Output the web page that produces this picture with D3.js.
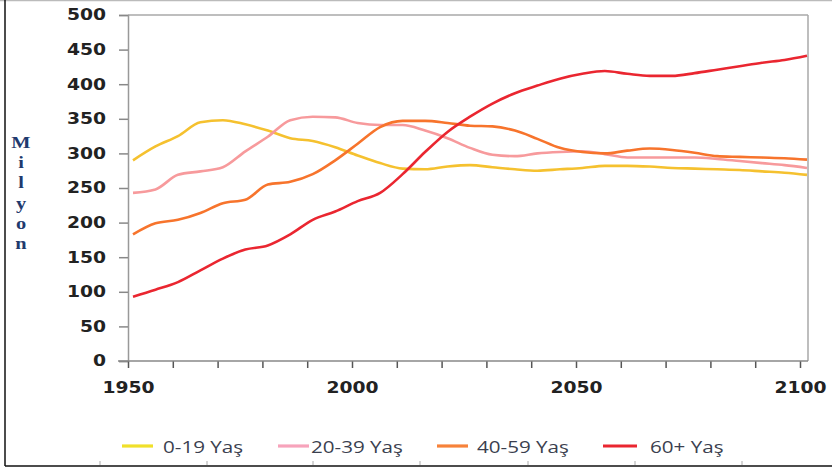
<!DOCTYPE html>
<html><head><meta charset="utf-8">
<script src="https://cdn.jsdelivr.net/npm/d3@7"></script>
<style>body{margin:0;background:#fff}svg{display:block}</style>
</head><body>
<script>
const years = d3.range(1950, 2101, 5);
const age0_19  = [290,310,325,345,348,342,333,322,318,309,297,286,278,277,281,283,280,277,275,277,279,282,282,281,279,278,277,276,274,272,269];
const age20_39 = [243,248,269,274,280,303,324,348,353,352,344,341,341,333,322,308,298,296,300,302,303,299,294,294,294,294,292,289,286,283,279];
const age40_59 = [183,199,204,214,228,233,255,259,270,290,314,338,347,347,344,340,339,333,321,308,302,300,304,307,305,301,296,295,294,293,291];
const age60p   = [93,103,114,131,148,161,167,183,204,216,231,243,270,302,331,353,372,387,398,408,415,419,415,412,412,416,421,426,431,435,441];
const seriesNames = ["0-19 Yaş","20-39 Yaş","40-59 Yaş","60+ Yaş"];
const seriesColors = ["#f5c12f","#f79a9c","#f7742c","#ea2630"];
const legendColors = ["#f0e02a","#f7a3bb","#f7823a","#ea2630"];
const yTicks = d3.range(0, 501, 50);
const xTicks = d3.range(1950, 2101, 10);
const xLabels = [1950, 2000, 2050, 2100];
const yTitle = "Milyon";

const W = 832, H = 471;
const svg = d3.select("body").append("svg").attr("width", W).attr("height", H);
const SX = 1.25;

// frame
svg.append("line").attr("x1",0).attr("x2",W).attr("y1",0.5).attr("y2",0.5).attr("stroke","#bbb").attr("stroke-width",1.5);
svg.append("line").attr("x1",5).attr("x2",5).attr("y1",0).attr("y2",466).attr("stroke","#111").attr("stroke-width",1.5);
svg.append("line").attr("x1",5).attr("x2",W).attr("y1",466).attr("y2",466).attr("stroke","#111").attr("stroke-width",1.5);
[100,207,313,420,528,635,742].forEach(x=>{
  svg.append("line").attr("x1",x).attr("x2",x).attr("y1",461).attr("y2",465).attr("stroke","#aaa").attr("stroke-width",1);
});

const x = d3.scaleLinear().domain([1950, 2100]).range([133, 807]);
const xAxisScale = x.copy().range([128, 800]);
const y = d3.scaleLinear().domain([0, 500]).range([361, 15]);

// plot border top / right
svg.append("line").attr("x1",128).attr("x2",808).attr("y1",15).attr("y2",15).attr("stroke","#a8a8a8").attr("stroke-width",1.5);
svg.append("line").attr("x1",808).attr("x2",808).attr("y1",15).attr("y2",361).attr("stroke","#a8a8a8").attr("stroke-width",1.5);

function stretchLabels(g, anchor){
  g.selectAll("text").each(function(){
    const t = d3.select(this);
    const tx = +t.attr("x") || 0;
    t.attr("x", 0).attr("transform", `translate(${tx},0) scale(${SX},1)`).attr("text-anchor", anchor);
  });
}

// y axis
const gy = svg.append("g").attr("transform","translate(128,0)")
  .call(d3.axisLeft(y).tickValues(yTicks).tickSize(9).tickPadding(13).tickFormat(d3.format("d")));
gy.select(".domain").attr("stroke","#999").attr("stroke-width",1.5);
gy.selectAll(".tick line").attr("stroke","#888").attr("stroke-width",1.5);
gy.selectAll("text").attr("font-family","DejaVu Sans").attr("font-weight","bold").attr("font-size",15).attr("fill","#222");
stretchLabels(gy, "end");

// x axis
const gx = svg.append("g").attr("transform","translate(0,361)")
  .call(d3.axisBottom(xAxisScale).tickValues(xTicks).tickSize(7).tickPadding(14)
    .tickFormat(d => xLabels.includes(d) ? String(d) : ""));
gx.select(".domain").remove();
gx.append("line").attr("x1",118).attr("x2",808).attr("stroke","#888").attr("stroke-width",1.5);
gx.selectAll(".tick line").attr("stroke","#555").attr("stroke-width",1.5);
gx.selectAll("text").attr("font-family","DejaVu Sans").attr("font-weight","bold").attr("font-size",15).attr("fill","#222");
stretchLabels(gx, "middle");

// y title
svg.append("g").selectAll("text").data(yTitle.split("")).join("text")
  .attr("transform", (d,i) => `translate(21,${148 + i*20.2}) scale(1.2,1)`)
  .attr("text-anchor","middle")
  .attr("font-family","Liberation Serif").attr("font-weight","bold").attr("font-size",17)
  .attr("fill","#1f3a6e").text(d=>d);

// lines
const allSeries = [age0_19, age20_39, age40_59, age60p];
const line = d3.line().x((d,i)=>x(years[i])).y(d=>y(d)).curve(d3.curveMonotoneX);
svg.append("g").selectAll("path").data(allSeries).join("path")
  .attr("d", line).attr("fill","none")
  .attr("stroke",(d,i)=>seriesColors[i]).attr("stroke-width",2.6).attr("stroke-linejoin","round");

// legend
const legX = [122, 278, 437, 603];
const lg = svg.append("g").selectAll("g").data(seriesNames).join("g")
  .attr("transform",(d,i)=>`translate(${legX[i]},446)`);
lg.append("line").attr("x1",0).attr("x2",(d,i)=> i===3?34:31).attr("y1",0).attr("y2",0)
  .attr("stroke",(d,i)=>legendColors[i]).attr("stroke-width",3.2);
lg.append("text").attr("transform",(d,i)=>`translate(${[41,33,40,47][i]},7) scale(${SX},1)`)
  .attr("font-family","Open Sans").attr("font-size",16.5).attr("fill","#3b3f4f").text(d=>d);
</script>
</body></html>
